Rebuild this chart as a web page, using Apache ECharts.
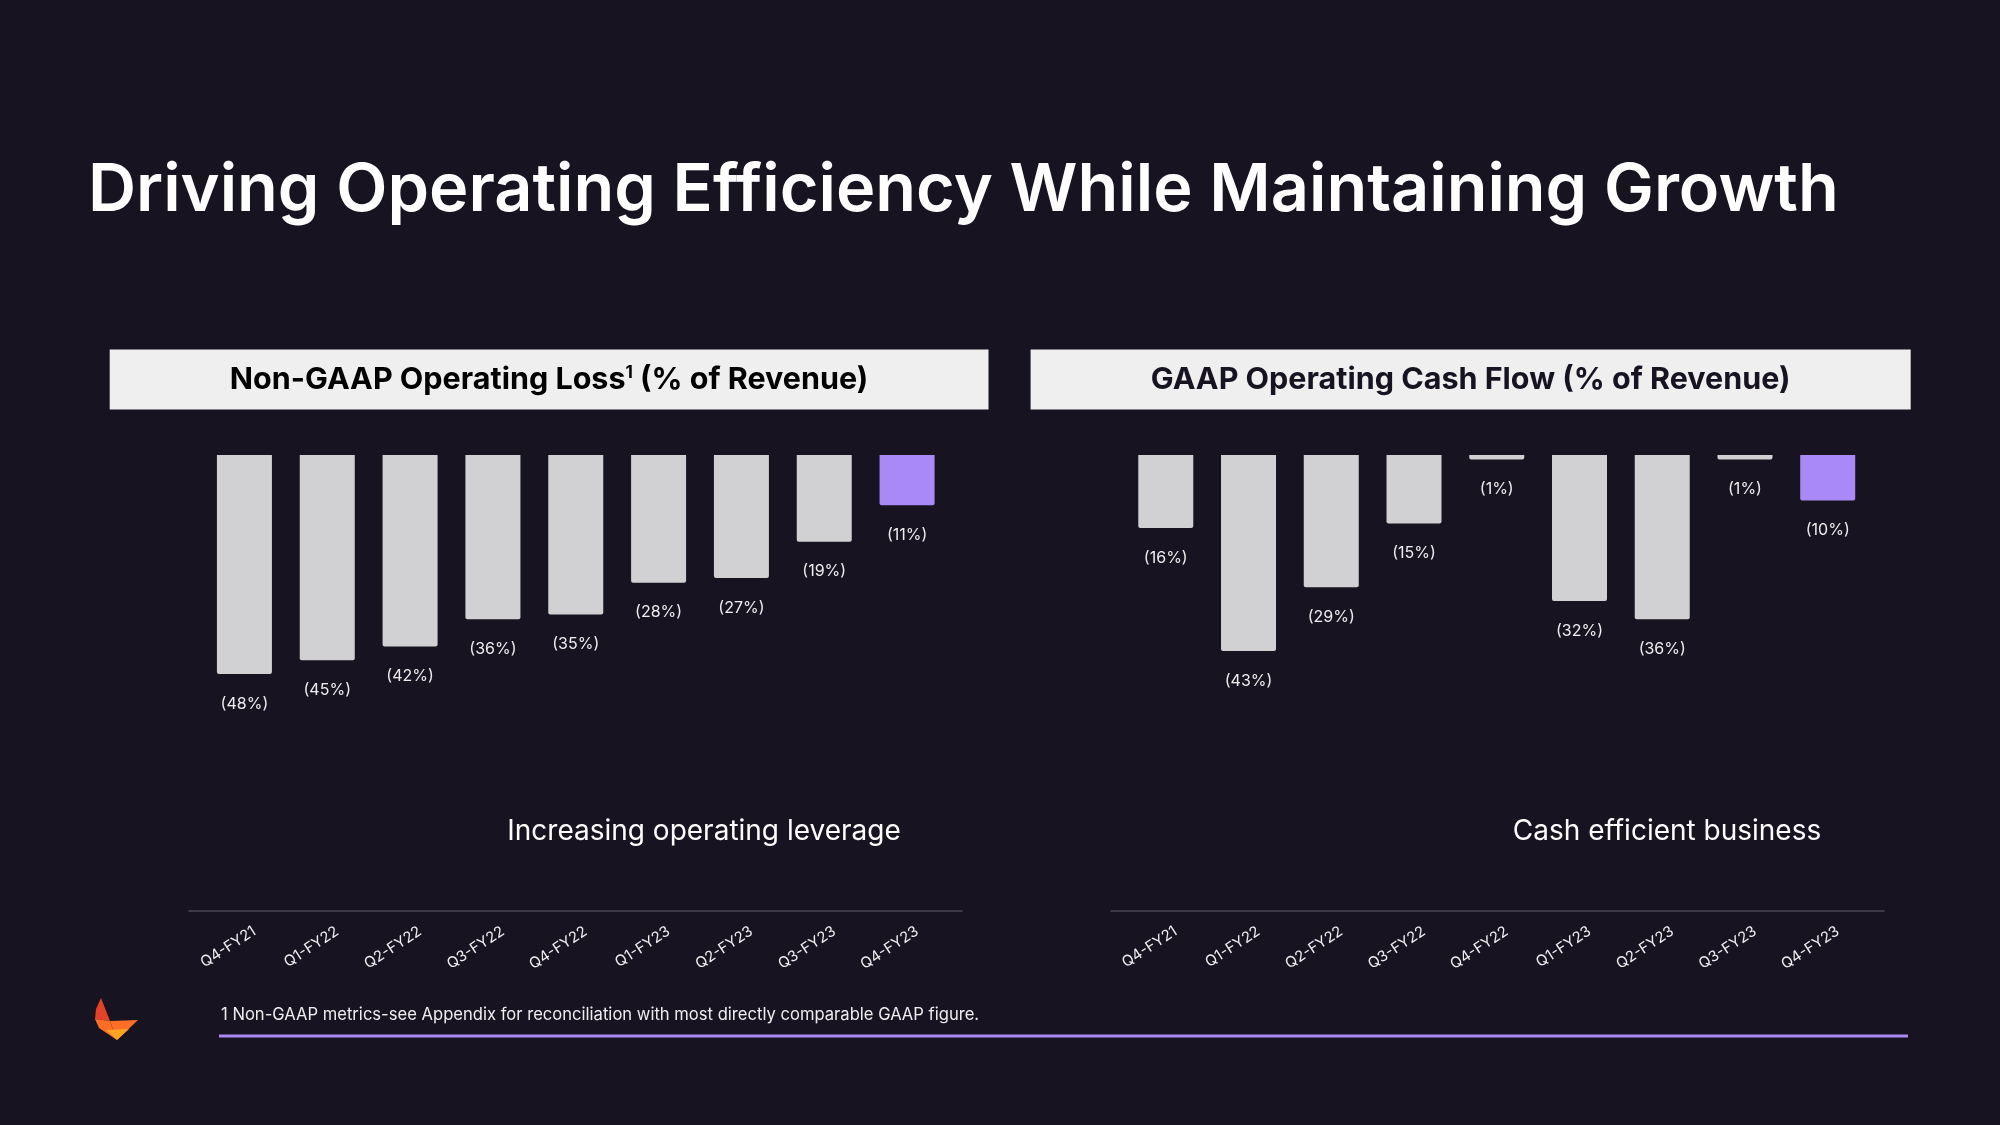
<!DOCTYPE html>
<html>
<head>
<meta charset="utf-8">
<script src="https://cdn.jsdelivr.net/npm/echarts@6/dist/echarts.min.js"></script>
<style>
html,body{margin:0;padding:0;background:#171321;}
#c{width:2000px;height:1125px;}
</style>
</head>
<body>
<div id="c"></div>
<script>
const categories = ['Q4-FY21','Q1-FY22','Q2-FY22','Q3-FY22','Q4-FY22','Q1-FY23','Q2-FY23','Q3-FY23','Q4-FY23'];
const opLossValues = [-48,-45,-42,-36,-35,-28,-27,-19,-11];
const cashFlowValues = [-16,-43,-29,-15,-1,-32,-36,-1,-10];
const highlightIndex = 8;

const FONT = 'Inter';
const GREY = '#d1d1d4';
const PURPLE = '#a989f5';
const BG = '#171321';

function barData(vals){
  return vals.map((v,i)=>({value:v,itemStyle:{color: i===highlightIndex?PURPLE:GREY}}));
}

const TOP = 455, H = 456;
const grids = [
  {left:203, width:745.5, top:TOP, height:H},
  {left:189, width:773, top:TOP, height:H},
  {left:213, width:745.5, top:TOP, height:H},
  {left:1124.4, width:744.7, top:TOP, height:H},
  {left:1111, width:773, top:TOP, height:H},
  {left:1134.4, width:744.7, top:TOP, height:H}
];

function xAx(gi, mode){
  return {
    type:'category', gridIndex:gi, data:categories,
    axisLine:{show: mode==='line', onZero:false, lineStyle:{color:'#4b4855', width:1.5}},
    axisTick:{show:false},
    axisLabel:{show: mode==='label', rotate:33, margin:19, color:'#eeeeee', fontFamily:FONT, fontSize:15, interval:0},
    splitLine:{show:false}
  };
}
function yAx(gi){
  return {type:'value', gridIndex:gi, min:-100, max:0, show:false};
}

const labelCfg = {
  show:true, position:'bottom', distance:22, color:'#eeeeee', fontFamily:FONT, fontSize:16,
  formatter: p => '(' + Math.abs(p.value) + '%)'
};

const option = {
  backgroundColor: BG,
  animation:false,
  grid: grids,
  xAxis: [xAx(0,'none'), xAx(1,'line'), xAx(2,'label'), xAx(3,'none'), xAx(4,'line'), xAx(5,'label')],
  yAxis: [yAx(0),yAx(1),yAx(2),yAx(3),yAx(4),yAx(5)],
  series: [
    {type:'bar', xAxisIndex:0, yAxisIndex:0, data:barData(opLossValues), barWidth:55,
     itemStyle:{borderRadius:[0,0,2,2]}, label:labelCfg},
    {type:'bar', xAxisIndex:3, yAxisIndex:3, data:barData(cashFlowValues), barWidth:55,
     itemStyle:{borderRadius:[0,0,2,2]}, label:labelCfg}
  ],
  graphic: [
    {type:'text', x:88, y:191, style:{text:'Driving Operating Efficiency While Maintaining Growth', fill:'#ffffff',
      font:'600 66.6px Inter', align:'left', verticalAlign:'middle'}, z:10},
    {type:'rect', shape:{x:109.7, y:349.5, width:878.8, height:60}, style:{fill:'#efeff0'}, z:5},
    {type:'rect', shape:{x:1030.6, y:349.5, width:880.1, height:60}, style:{fill:'#efeff0'}, z:5},
    {type:'text', x:549, y:379.5, style:{
      text:'{a|Non-GAAP Operating Loss}{s|1}{a| (% of Revenue)}', align:'center', verticalAlign:'middle',
      rich:{a:{fontFamily:FONT, fontWeight:700, fontSize:30.5, color:'#171321'},
            s:{fontFamily:FONT, fontWeight:700, fontSize:17, color:'#171321', verticalAlign:'top', padding:[0,0,14,0]}}
    }, z:10},
    {type:'text', x:1470.6, y:379.5, style:{
      text:'GAAP Operating Cash Flow (% of Revenue)', align:'center', verticalAlign:'middle',
      font:'700 30.5px Inter', fill:'#171321'}, z:10},
    {type:'text', x:704, y:831.5, style:{text:'Increasing operating leverage', align:'center', verticalAlign:'middle',
      font:'400 28px Inter', fill:'#ffffff'}, z:10},
    {type:'text', x:1667, y:831.5, style:{text:'Cash efficient business', align:'center', verticalAlign:'middle',
      font:'400 28px Inter', fill:'#ffffff'}, z:10},
    {type:'text', x:221, y:1015, style:{text:'1 Non-GAAP metrics-see Appendix for reconciliation with most directly comparable GAAP figure.',
      align:'left', verticalAlign:'middle', font:'400 16.6px Inter', fill:'#eeeeee'}, z:10},
    {type:'line', shape:{x1:219, y1:1036, x2:1908, y2:1036}, style:{stroke:PURPLE, lineWidth:3}, z:10},
    {type:'polygon', shape:{points:[[101,998],[110,1021],[95,1019],[96,1009]]}, style:{fill:'#e24329'}, z:10},
    {type:'polygon', shape:{points:[[95,1019],[110,1021],[117,1040],[99,1028]]}, style:{fill:'#fc6d26'}, z:10},
    {type:'polygon', shape:{points:[[110,1021],[138,1020],[117,1040]]}, style:{fill:'#fc6d26'}, z:10},
    {type:'polygon', shape:{points:[[106,1030],[129,1029],[117,1040]]}, style:{fill:'#fca326'}, z:11}
  ]
};

const chart = echarts.init(document.getElementById('c'), null, {renderer:'canvas'});
chart.setOption(option);
</script>
</body>
</html>
